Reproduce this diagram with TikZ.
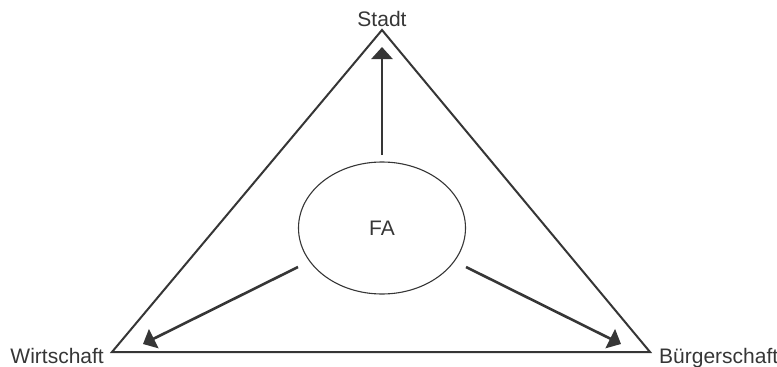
\documentclass[tikz,border=0pt]{standalone}
\usepackage{fontspec}
\setmainfont{Liberation Sans}
\usetikzlibrary{arrows.meta,shapes.geometric}
\definecolor{ink}{HTML}{363636}
\tikzset{
  lbl/.style={text=ink,font=\fontsize{21}{24}\selectfont,inner sep=0pt},
  tri/.style={draw=ink,line width=2pt,line join=miter},
  fabox/.style={draw=ink,line width=1.1pt,ellipse,minimum width=167pt,minimum height=132pt,inner sep=0pt,text=ink,font=\fontsize{21}{24}\selectfont},
  arr/.style={draw=ink,line width=2.6pt,-{Triangle[length=12pt,width=21pt]}}
}
\begin{document}
\begin{tikzpicture}[x=1pt,y=-1pt]
\useasboundingbox (0,0) rectangle (777,367);
\coordinate (top) at (382,30);
\coordinate (bl) at (112,352);
\coordinate (br) at (650,352);
\draw[tri] (top) -- (br) -- (bl) -- cycle;
\node[fabox] (fa) at (382,228) {FA};
\node[lbl,anchor=base] (stadt) at (382,26) {Stadt};
\node[lbl,anchor=base east] (wirt) at (104,363) {Wirtschaft};
\node[lbl,anchor=base west] (burg) at (659,363) {Bürgerschaft};
\coordinate (s1) at (382,155);
\coordinate (e1) at (382,47);
\coordinate (s2) at (298,267);
\coordinate (e2) at (143,344);
\coordinate (s3) at (466,267);
\coordinate (e3) at (621,344);
\draw[arr] (s1) -- (e1);
\draw[arr] (s2) -- (e2);
\draw[arr] (s3) -- (e3);
\end{tikzpicture}
\end{document}
